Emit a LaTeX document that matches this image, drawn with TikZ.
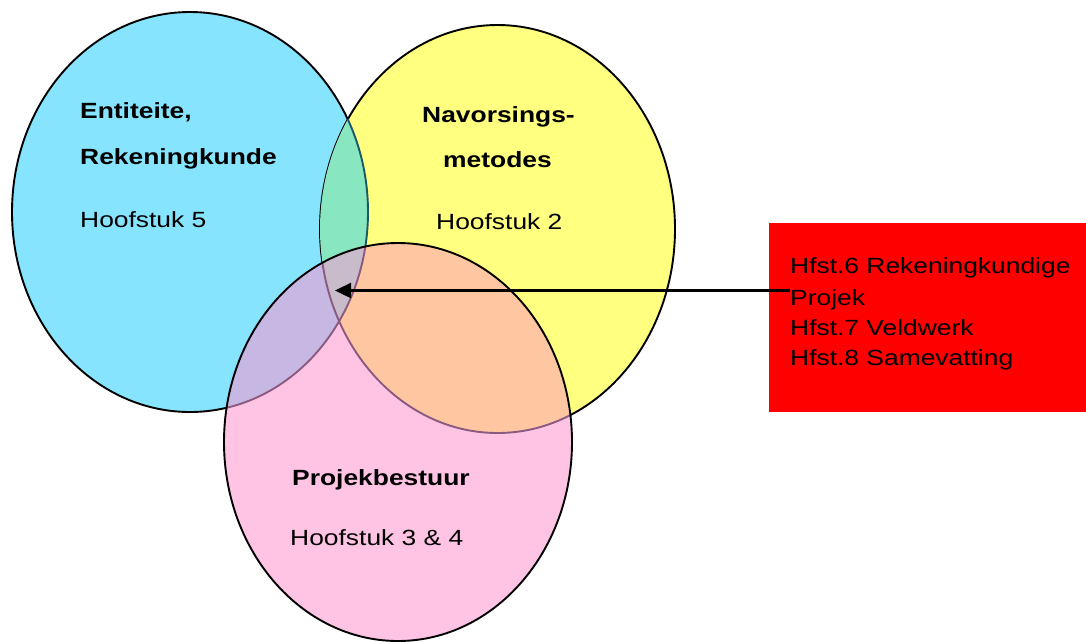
\documentclass[tikz,border=0pt]{standalone}
\usepackage{fontspec}
\setmainfont[FakeStretch=1.2]{Liberation Sans}
\usetikzlibrary{arrows.meta}
\definecolor{cblue}{HTML}{87E4FE}
\definecolor{cyellow}{HTML}{FFFF80}
\definecolor{cpink}{HTML}{FFC4E4}
\definecolor{cgreen}{HTML}{88E6C0}
\definecolor{clav}{HTML}{C6B8E2}
\definecolor{cpeach}{HTML}{FFC6A2}
\definecolor{cgray}{HTML}{C8BCCA}
\definecolor{cfade}{HTML}{8A5A80}
\definecolor{cteal}{HTML}{1A5A66}
\begin{document}
\begin{tikzpicture}[x=1pt,y=-1pt,
  outline/.style={line width=1.9pt},
  title/.style={anchor=base west, inner sep=0pt, font=\fontsize{22}{26}\selectfont\bfseries},
  body/.style={anchor=base west, inner sep=0pt, font=\fontsize{22}{26}\selectfont},
  conn/.style={line width=2.4pt, -{Triangle[length=16pt,width=15pt]}}]
\useasboundingbox (0,0) rectangle (1086,641);
\def\pathblue{(190,212) ellipse [x radius=178pt, y radius=200pt]}
\def\pathyellow{(497.5,229) ellipse [x radius=177.5pt, y radius=204pt]}
\def\pathpink{(398,442) ellipse [x radius=174pt, y radius=199pt]}
% blue
\fill[cblue] \pathblue;
\draw[outline] \pathblue;
% yellow
\fill[cyellow] \pathyellow;
\draw[outline] \pathyellow;
\begin{scope}
  \clip \pathyellow;
  \fill[cgreen] \pathblue;
  \draw[outline, cteal] \pathblue;
\end{scope}
% pink
\fill[cpink] \pathpink;
\begin{scope}
  \clip \pathpink;
  \fill[clav] \pathblue;
  \fill[cpeach] \pathyellow;
  \begin{scope}
    \clip \pathblue;
    \fill[cgray] \pathyellow;
  \end{scope}
  \draw[outline, cfade] \pathblue;
  \draw[outline, cfade] \pathyellow;
\end{scope}
\draw[outline] \pathpink;
% texts
\node[title] (t1) at (80,118) {Entiteite,};
\node[title] (t2) at (80,164) {Rekeningkunde};
\node[body] (t3) at (80,227) {Hoofstuk 5};
\node[title] (n1) at (422,122) {Navorsings-};
\node[title] (n2) at (443,167) {metodes};
\node[body] (n3) at (436,229) {Hoofstuk 2};
\node[title] (p1) at (292,485) {Projekbestuur};
\node[body] (p2) at (290,545) {Hoofstuk 3 \& 4};
% red box
\node[fill=red, minimum width=317pt, minimum height=189pt, anchor=north west, inner sep=0pt] (box) at (769,223) {};
\node[body] (r1) at (790,273) {Hfst.6 Rekeningkundige};
\node[body] (r2) at (790,305) {Projek};
\node[body] (r3) at (790,335) {Hfst.7 Veldwerk};
\node[body] (r4) at (790,365) {Hfst.8 Samevatting};
% arrow
\coordinate (as) at (790,290.5);
\coordinate (tip) at (335,290.5);
\draw[conn] (as) -- (tip);
\end{tikzpicture}
\end{document}
